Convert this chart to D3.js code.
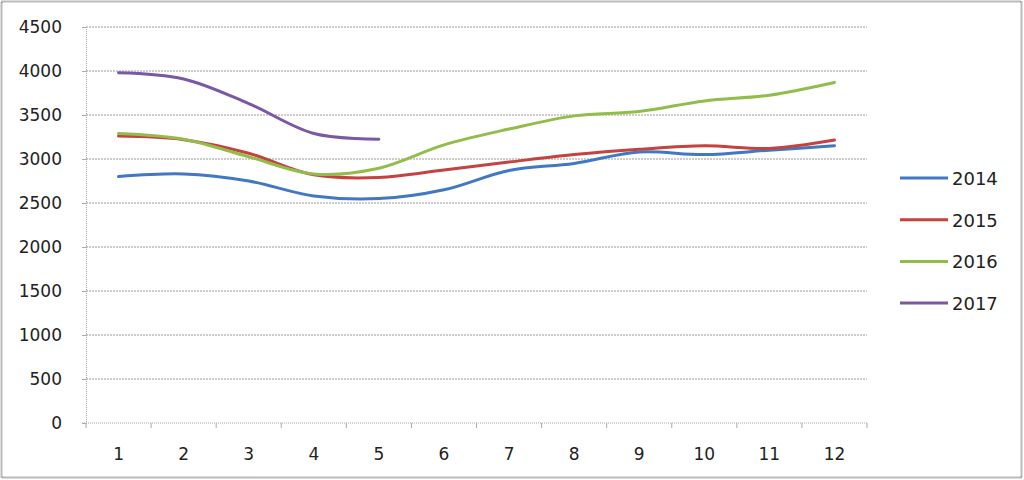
<!DOCTYPE html>
<html>
<head>
<meta charset="utf-8">
<script src="https://cdn.jsdelivr.net/npm/d3@7"></script>
<style>
  body { margin: 0; background: #fff; }
  text { font-family: "DejaVu Sans", "Open Sans", sans-serif; fill: #222; }
</style>
</head>
<body>
<div id="chart"></div>
<script>
// Data
let months = [1, 2, 3, 4, 5, 6, 7, 8, 9, 10, 11, 12];
let years = ['2014', '2015', '2016', '2017'];
let values2014 = [2800, 2830, 2750, 2580, 2550, 2650, 2870, 2950, 3080, 3050, 3100, 3150];
let values2015 = [3260, 3220, 3065, 2820, 2790, 2875, 2965, 3050, 3110, 3150, 3120, 3215];
let values2016 = [3290, 3225, 3025, 2830, 2895, 3160, 3340, 3490, 3540, 3660, 3725, 3870];
let values2017 = [3980, 3910, 3630, 3290, 3225];
let yTicks = [0, 500, 1000, 1500, 2000, 2500, 3000, 3500, 4000, 4500];
let colors = ['#4078c4', '#c4423f', '#93bd4a', '#7a58a4'];

let svgWidth = 1024;
let svgHeight = 480;
let margins = { top: 27, bottom: 57, left: 86, right: 157 };
let chartWidth = svgWidth - margins.left - margins.right;
let chartHeight = svgHeight - margins.top - margins.bottom;

let svg = d3.select('#chart').append('svg')
    .attr('width', svgWidth)
    .attr('height', svgHeight);

// Outer frame
svg.append('rect')
    .attr('x', 1.5).attr('y', 1.5)
    .attr('width', svgWidth - 4).attr('height', svgHeight - 4)
    .attr('fill', 'none')
    .attr('stroke', '#777')
    .attr('stroke-width', 2)
    .attr('stroke-dasharray', '1,1');

let chart = svg.append('g')
    .attr('transform', `translate(${margins.left}, ${margins.top})`);

let xScale = d3.scaleBand().domain(months).range([0, chartWidth]);
let yScale = d3.scaleLinear().domain([0, 4500]).range([chartHeight, 0]);

// Gridlines
chart.append('g').selectAll('line')
    .data(yTicks.slice(1)).enter()
    .append('line')
    .attr('x1', 0).attr('x2', chartWidth)
    .attr('y1', d => yScale(d)).attr('y2', d => yScale(d))
    .attr('stroke', '#999')
    .attr('stroke-dasharray', '2,1');

// Y axis
let yAxis = chart.append('g')
    .call(d3.axisLeft(yScale).tickValues(yTicks).tickFormat(d3.format('d')).tickSize(4).tickPadding(20));
yAxis.select('.domain').attr('stroke', '#aaa').attr('stroke-dasharray', '1,1');
yAxis.selectAll('.tick line').attr('stroke', '#aaa');
yAxis.selectAll('.tick text')
    .style('font-size', '17px')
    .style('font-family', '"DejaVu Sans", sans-serif')
    .attr('fill', '#222');

// X axis (ticks at category boundaries)
let xAxisG = chart.append('g').attr('transform', `translate(0, ${chartHeight})`);
xAxisG.append('line')
    .attr('x1', -4).attr('x2', chartWidth)
    .attr('stroke', '#aaa').attr('stroke-dasharray', '1,1');
xAxisG.selectAll('line.tk')
    .data(d3.range(0, months.length + 1)).enter()
    .append('line').attr('class', 'tk')
    .attr('x1', d => d * xScale.step()).attr('x2', d => d * xScale.step())
    .attr('y1', 0).attr('y2', 5)
    .attr('stroke', '#aaa');
xAxisG.selectAll('text')
    .data(months).enter()
    .append('text')
    .attr('x', d => xScale(d) + xScale.bandwidth() / 2)
    .attr('y', 37)
    .attr('text-anchor', 'middle')
    .style('font-size', '17px')
    .text(d => d);

// Lines
let series = [values2014, values2015, values2016, values2017];
let line = d3.line()
    .x((d, i) => xScale(months[i]) + xScale.bandwidth() / 2)
    .y(d => yScale(d))
    .curve(d3.curveCatmullRom.alpha(0.5));

series.forEach((vals, i) => {
    chart.append('path')
        .datum(vals)
        .attr('d', line)
        .attr('fill', 'none')
        .attr('stroke', colors[i])
        .attr('stroke-width', 3)
        .attr('stroke-linecap', 'round');
});

// Legend
let legend = svg.append('g').attr('transform', 'translate(900, 178)');
years.forEach((yr, i) => {
    let g = legend.append('g').attr('transform', `translate(0, ${i * 41.7})`);
    g.append('line')
        .attr('x1', 0).attr('x2', 48)
        .attr('stroke', colors[i]).attr('stroke-width', 3);
    g.append('text')
        .attr('x', 52).attr('y', 7)
        .style('font-size', '18px')
        .text(yr);
});
</script>
</body>
</html>
